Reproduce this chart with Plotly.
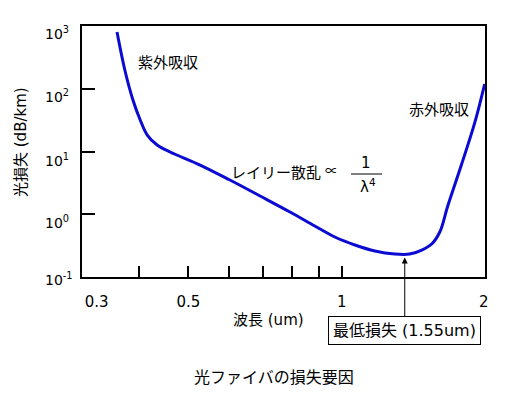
import math
import plotly.graph_objects as go

# ---- data ----
wavelength_um = [0.362, 0.375, 0.389, 0.402, 0.415, 0.434, 0.460, 0.527, 0.603,
                 0.691, 0.791, 0.885, 0.969, 1.061, 1.161, 1.270, 1.359, 1.435,
                 1.501, 1.557, 1.614, 1.719, 1.823, 1.907]
loss_db_km = [802, 199, 66.2, 31.8, 18.3, 12.7, 9.82, 6.09, 3.51,
              1.954, 1.086, 0.650, 0.434, 0.324, 0.260, 0.2325, 0.2325, 0.269,
              0.336, 0.521, 1.354, 6.32, 28.5, 119]

x_label_vals = [0.33, 0.5, 1, 1.9]
x_label_text = ["0.3", "0.5", "1", "2"]
x_minor_ticks = [0.4, 0.5, 0.6, 0.7, 0.8, 0.9, 1.0]
y_tick_vals = [0.1, 1, 10, 100, 1000]
y_tick_text = ["10<sup>-1</sup>", "10<sup>0</sup>", "10<sup>1</sup>",
               "10<sup>2</sup>", "10<sup>3</sup>"]
y_label_shift = [-2, -8, -8, -7, -7]
min_point = (1.329, 0.229)

FONT = "DejaVu Sans, Noto Sans CJK JP, sans-serif"
CJK = "Noto Sans CJK JP, sans-serif"

# window geometry (page body has an 8px margin)
OFF = 8
W, H = 507, 394
PL, PR, PT, PB = 82, 485, 26, 277          # plot area in window pixels
PW, PH = PR - PL, PB - PT


def px(x):
    return (x - PL) / PW


def py(y):
    return (PB - y) / PH


fig = go.Figure()
fig.add_trace(go.Scatter(
    x=wavelength_um, y=loss_db_km, mode="lines",
    line=dict(color="#0A0AD2", width=3, shape="spline", smoothing=1.0),
    hoverinfo="skip"))

axis_line = dict(showline=True, linecolor="black", linewidth=2, mirror=True,
                 showgrid=False, zeroline=False, automargin=False)

fig.update_xaxes(type="log", range=[math.log10(0.309), math.log10(1.91)],
                 tickvals=x_label_vals, ticktext=x_label_text, ticks="",
                 ticklabelstandoff=10,
                 minor=dict(tickvals=x_minor_ticks, ticks="inside", ticklen=11,
                            tickwidth=2, tickcolor="black"),
                 tickfont=dict(size=15, family=FONT, color="black"),
                 **axis_line)
fig.update_yaxes(type="log", range=[-1, 3],
                 tickvals=y_tick_vals, showticklabels=False,
                 ticks="inside", ticklen=13, tickwidth=2, tickcolor="black",
                 **axis_line)

ann = []


def label(text, x, y, size=15, family=FONT, **kw):
    ann.append(dict(text=text, xref="paper", yref="paper", x=px(x), y=py(y),
                    xanchor="center", yanchor="middle", showarrow=False,
                    font=dict(family=family, size=size, color="black"), **kw))


# y tick labels
for v, t, s in zip(y_tick_vals, y_tick_text, y_label_shift):
    ann.append(dict(text=t, xref="paper", yref="y", x=px(43), y=math.log10(v),
                    xanchor="left", yanchor="middle", yshift=s,
                    showarrow=False,
                    font=dict(family=FONT, size=14, color="black")))

label("光損失 (dB/km)", 21, 142, textangle=-90)
label("波長 (um)", 268, 320)
label("光ファイバの損失要因", 274, 377, size=16)
label("紫外吸収", 168, 63)
label("赤外吸収", 439, 110)
label("レイリー散乱", 276, 173)
label("∝", 331, 170, size=13, family=CJK)
label("1", 366, 163)
label("λ<sup>4</sup>", 368, 186)

ann.append(dict(text="最低損失 (1.55um)", x=math.log10(min_point[0]),
                y=math.log10(min_point[1]), xref="x", yref="y",
                showarrow=True, arrowhead=2, arrowsize=1.2, arrowwidth=1,
                arrowcolor="black", ax=0, ay=76, standoff=3,
                bordercolor="black", borderwidth=1, borderpad=4,
                bgcolor="white", font=dict(family=FONT, size=16, color="black")))

fig.add_shape(type="line", xref="paper", yref="paper",
              x0=px(351), x1=px(382), y0=py(174), y1=py(174),
              line=dict(color="black", width=1))

fig.update_layout(width=W - OFF, height=H - OFF,
                  margin=dict(l=PL - OFF, r=W - PR, t=PT - OFF, b=H - PB),
                  paper_bgcolor="white", plot_bgcolor="white",
                  showlegend=False, annotations=ann,
                  font=dict(family=FONT, size=15, color="black"))

fig.write_html("out.html")
